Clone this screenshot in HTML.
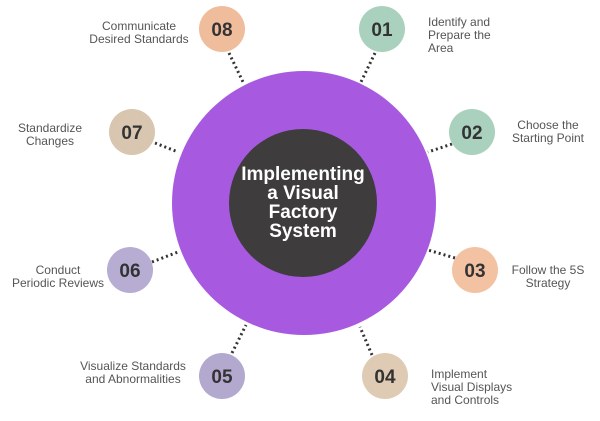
<!DOCTYPE html>
<html><head><style>
body{margin:0;width:600px;height:416px;background:#fff;overflow:hidden;font-family:"Liberation Sans",sans-serif}
</style></head><body>
<svg width="600" height="416" viewBox="0 0 600 416">
<g stroke="#333" stroke-width="3" stroke-dasharray="2 3" fill="none">
<line x1="229" y1="53" x2="244" y2="84"/>
<line x1="375" y1="53" x2="360" y2="84"/>
<line x1="452" y1="144" x2="428" y2="152"/>
<line x1="455" y1="258" x2="428" y2="250"/>
<line x1="372" y1="355" x2="360" y2="327"/>
<line x1="232" y1="353" x2="246" y2="325"/>
<line x1="152" y1="262" x2="178" y2="252"/>
<line x1="155" y1="143" x2="178" y2="152"/>
</g>
<circle cx="304" cy="203" r="132" fill="#a75ae0"/>
<circle cx="303" cy="203" r="74" fill="#3e3c3d"/>
<g fill="#fff" font-weight="bold" font-size="19" text-anchor="middle">
<text x="303" y="180">Implementing</text>
<text x="303" y="199">a Visual</text>
<text x="303" y="218">Factory</text>
<text x="303" y="237">System</text>
</g>
<g font-weight="bold" font-size="19" fill="#333" text-anchor="middle">
<circle cx="222" cy="29" r="23" fill="#f0bd9c"/><text x="222" y="36">08</text>
<circle cx="382" cy="29" r="23" fill="#a9d1be"/><text x="382" y="36">01</text>
<circle cx="472" cy="132" r="23" fill="#a9d1be"/><text x="472" y="139">02</text>
<circle cx="475" cy="270" r="23" fill="#f2c2a2"/><text x="475" y="277">03</text>
<circle cx="385" cy="376" r="23" fill="#dfcbb3"/><text x="385" y="383">04</text>
<circle cx="222" cy="376" r="23" fill="#b3a9cf"/><text x="222" y="383">05</text>
<circle cx="130" cy="270" r="23" fill="#b7add3"/><text x="130" y="277">06</text>
<circle cx="132" cy="132" r="23" fill="#d9c6b0"/><text x="132" y="139">07</text>
</g>
<g font-size="12" fill="#555">
<g text-anchor="middle">
<text x="139" y="30">Communicate</text><text x="139" y="43">Desired Standards</text>
<text x="50" y="132">Standardize</text><text x="50" y="145">Changes</text>
<text x="58" y="274">Conduct</text><text x="58" y="287">Periodic Reviews</text>
<text x="133" y="370">Visualize Standards</text><text x="133" y="383">and Abnormalities</text>
</g>
<text x="428" y="26">Identify and</text><text x="428" y="39">Prepare the</text><text x="428" y="52">Area</text>
<g text-anchor="middle">
<text x="548" y="129">Choose the</text><text x="548" y="142">Starting Point</text>
<text x="548" y="274">Follow the 5S</text><text x="548" y="287">Strategy</text>
</g>
<text x="431" y="378">Implement</text><text x="431" y="391">Visual Displays</text><text x="431" y="404">and Controls</text>
</g>
</svg>
</body></html>
